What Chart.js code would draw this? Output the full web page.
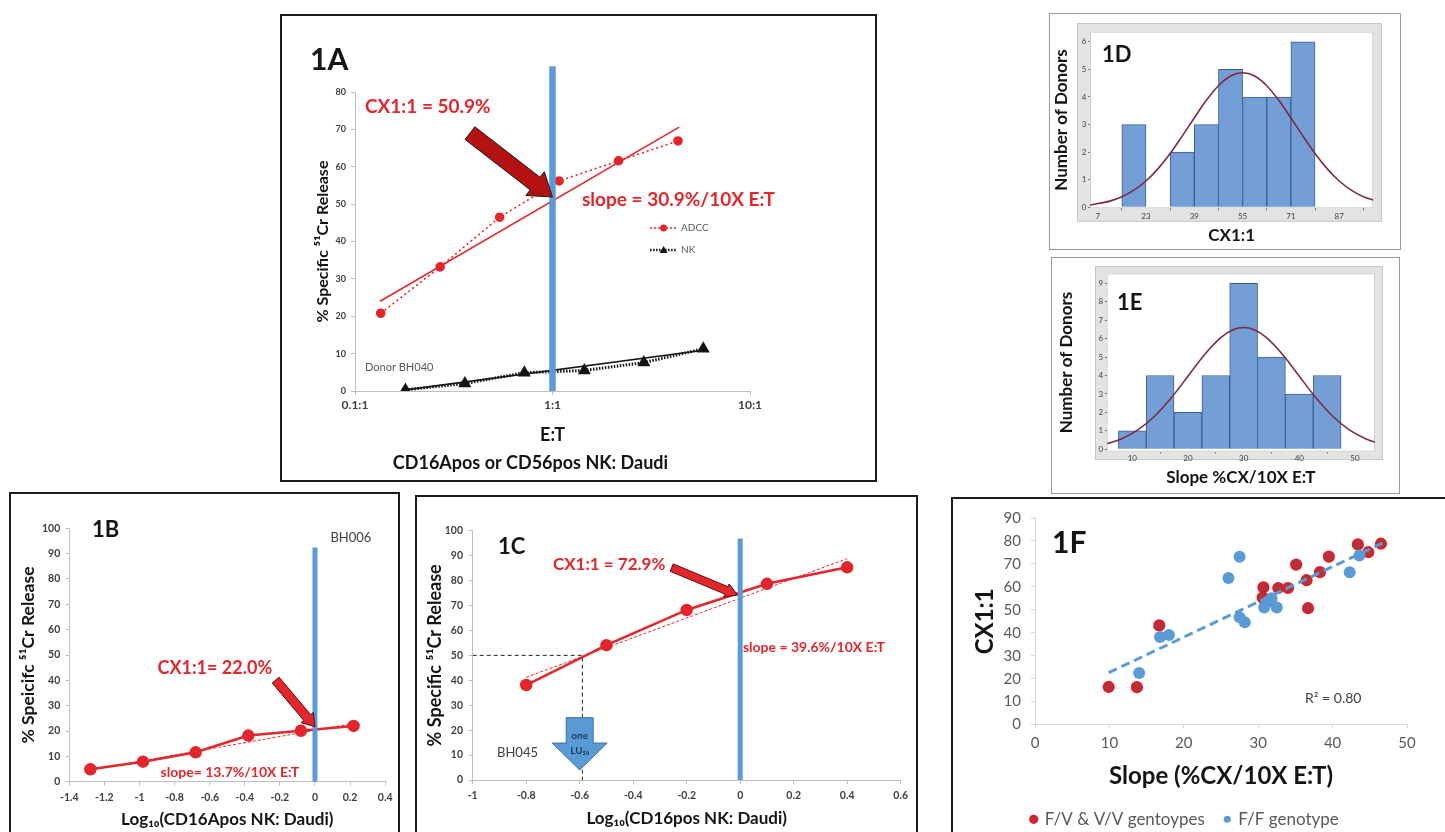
<!DOCTYPE html>
<html>
<head>
<meta charset="utf-8">
<title>Figure 1</title>
<script src="https://cdn.jsdelivr.net/npm/chart.js@4.4.1/dist/chart.umd.min.js"></script>
<style>
  html, body { margin: 0; padding: 0; background: #fff; }
  body { position: relative; width: 1445px; height: 832px; overflow: hidden; }
  .box { position: absolute; box-sizing: border-box; border: 2px solid #1b1b1b; background: #fff; overflow: hidden; }
  .box.thin { border: 1px solid #9a9a9a; }
  canvas { display: block; }
</style>
</head>
<body>
<div class="box" style="left:280px;top:14px;width:597px;height:468px"><canvas id="fig1A" width="593" height="464"></canvas></div>
<div class="box thin" style="left:1049px;top:13px;width:352px;height:237px"><canvas id="fig1D" width="350" height="235"></canvas></div>
<div class="box thin" style="left:1051px;top:257px;width:349px;height:237px"><canvas id="fig1E" width="347" height="235"></canvas></div>
<div class="box" style="left:9px;top:492px;width:391px;height:350px"><canvas id="fig1B" width="387" height="340"></canvas></div>
<div class="box" style="left:415px;top:495px;width:503px;height:345px"><canvas id="fig1C" width="499" height="340"></canvas></div>
<div class="box" style="left:951px;top:497px;width:496px;height:365px"><canvas id="fig1F" width="492" height="360"></canvas></div>

<script>
// ---- 1A: donor BH040, % release vs E:T (log axis)
const etAdcc = [0.135, 0.27, 0.54, 1.08, 2.16, 4.32];
const adccRelease = [20.8, 33.2, 46.5, 56.2, 61.6, 66.9];
const etNk = [0.18, 0.36, 0.72, 1.45, 2.9, 5.8];
const nkRelease = [0.3, 2.0, 4.9, 5.5, 7.6, 11.3];
const adccFitX = [0.134, 4.38];
const adccFitY = [24.0, 70.6];
const nkFitX = [0.18, 5.8];
const nkFitY = [0.3, 10.9];
const etTicks = [0.1, 1, 10];
const etTickLabels = ['0.1:1', '1:1', '10:1'];

// ---- 1B: donor BH006
const logEtB = [-1.28, -0.98, -0.68, -0.38, -0.08, 0.22];
const releaseB = [4.9, 7.9, 11.6, 18.2, 20.1, 22.0];
const fitBX = [-1.28, 0.22];
const fitBY = [4.6, 23.0];
const ticksB = [-1.4, -1.2, -1, -0.8, -0.6, -0.4, -0.2, 0, 0.2, 0.4];

// ---- 1C: donor BH045
const logEtC = [-0.8, -0.5, -0.2, 0.1, 0.4];
const releaseC = [38.1, 54.1, 68.2, 78.7, 85.3];
const fitCX = [-0.8, 0.4];
const fitCY = [41.2, 88.8];
const lu50X = [-1, -0.59, -0.59];
const lu50Y = [50, 50, 0];
const ticksC = [-1, -0.8, -0.6, -0.4, -0.2, 0, 0.2, 0.4, 0.6];

// ---- 1D: histogram of CX1:1
const cxBins = [19, 27, 35, 43, 51, 59, 67, 75];
const cxDonors = [3, 0, 2, 3, 5, 4, 4, 6];
const cxCurveX = [4.5, 11, 15, 19, 23, 27, 31, 35, 39, 43, 47, 51, 55, 59, 63, 67, 71, 75, 79, 83, 87, 91, 95, 98.3];
const cxCurveY = [0.08, 0.22, 0.38, 0.62, 0.95, 1.40, 1.95, 2.58, 3.24, 3.88, 4.41, 4.76, 4.88, 4.76, 4.41, 3.88, 3.24, 2.58, 1.95, 1.40, 0.95, 0.62, 0.38, 0.26];
const cxTicks = [7, 23, 39, 55, 71, 87];
const donorTicksD = [0, 1, 2, 3, 4, 5, 6];

// ---- 1E: histogram of slope
const slopeBins = [10, 15, 20, 25, 30, 35, 40, 45];
const slopeDonors = [1, 4, 2, 4, 9, 5, 3, 4];
const slopeCurveX = [5.5, 8, 11, 14, 17, 20, 23, 26, 28, 30, 32, 34, 37, 40, 43, 46, 49, 52, 53.6];
const slopeCurveY = [0.31, 0.56, 1.05, 1.79, 2.79, 3.96, 5.14, 6.08, 6.47, 6.60, 6.47, 6.08, 5.14, 3.96, 2.79, 1.79, 1.05, 0.56, 0.38];
const slopeTicks = [10, 20, 30, 40, 50];
const donorTicksE = [0, 1, 2, 3, 4, 5, 6, 7, 8, 9];

// ---- 1F: CX1:1 vs slope by genotype
const fvSlope = [9.9, 13.7, 16.7, 30.6, 30.7, 32.7, 34.0, 35.1, 36.5, 36.7, 38.3, 39.5, 43.4, 44.8, 46.5];
const fvCx = [16.4, 16.3, 43.2, 55.3, 59.8, 59.5, 59.5, 69.7, 62.9, 50.7, 66.4, 73.2, 78.5, 75.1, 78.8];
const ffSlope = [14.0, 16.8, 18.0, 26.0, 27.5, 27.5, 28.2, 30.8, 31.3, 31.8, 32.5, 42.3, 43.6];
const ffCx = [22.5, 38.2, 39.0, 63.9, 73.1, 46.8, 44.6, 51.0, 53.5, 55.0, 51.0, 66.4, 73.7];
const fitFX = [9.9, 46.7];
const fitFY = [22.6, 79.1];

const RED = '#e3262c';
const BLUE = '#5b9bd5';
const INK = '#141414';
const FONT = "Lato, 'DejaVu Sans', sans-serif";

Chart.defaults.font.family = FONT;
Chart.defaults.color = '#404040';

const pts = (xs, ys) => xs.map((x, i) => ({ x: x, y: ys[i] }));
const fixW = w => s => { s.width = w; };
const fixH = h => s => { s.height = h; };
const setTicks = arr => s => { s.ticks = arr.map(v => ({ value: v })); };
const dec1 = v => String(+v.toFixed(1));

// arrows, free text and small keys placed in data units
const notes = {
  id: 'notes',
  afterDatasetsDraw(chart, args, opts) {
    const ctx = chart.ctx;
    const px = v => chart.scales.x.getPixelForValue(v);
    const py = v => chart.scales.y.getPixelForValue(v);
    (opts.arrows || []).forEach(a => {
      const x1 = px(a.from[0]), y1 = py(a.from[1]);
      const x2 = px(a.to[0]), y2 = py(a.to[1]);
      const len = Math.hypot(x2 - x1, y2 - y1);
      const ux = (x2 - x1) / len, uy = (y2 - y1) / len;
      const nx = -uy, ny = ux;
      const bx = x2 - ux * a.headLen, by = y2 - uy * a.headLen;
      const s = a.shaft / 2, h = a.head / 2;
      ctx.save();
      ctx.beginPath();
      ctx.moveTo(x1 + nx * s, y1 + ny * s);
      ctx.lineTo(bx + nx * s, by + ny * s);
      ctx.lineTo(bx + nx * h, by + ny * h);
      ctx.lineTo(x2, y2);
      ctx.lineTo(bx - nx * h, by - ny * h);
      ctx.lineTo(bx - nx * s, by - ny * s);
      ctx.lineTo(x1 - nx * s, y1 - ny * s);
      ctx.closePath();
      ctx.fillStyle = a.fill;
      ctx.fill();
      ctx.lineWidth = a.lineWidth || 1;
      ctx.strokeStyle = a.stroke;
      ctx.stroke();
      ctx.restore();
    });
    (opts.keys || []).forEach(k => {
      const x = px(k.x), y = py(k.y);
      ctx.save();
      ctx.strokeStyle = k.color;
      ctx.lineWidth = k.width;
      ctx.setLineDash(k.dash);
      ctx.beginPath();
      ctx.moveTo(x, y);
      ctx.lineTo(x + 27, y);
      ctx.stroke();
      ctx.setLineDash([]);
      ctx.fillStyle = k.color;
      ctx.beginPath();
      if (k.style === 'triangle') {
        ctx.moveTo(x + 13.5, y - 4);
        ctx.lineTo(x + 17.5, y + 3);
        ctx.lineTo(x + 9.5, y + 3);
        ctx.closePath();
      } else {
        ctx.arc(x + 13.5, y, 3.5, 0, Math.PI * 2);
      }
      ctx.fill();
      ctx.font = '10px ' + FONT;
      ctx.fillStyle = '#595959';
      ctx.textBaseline = 'middle';
      ctx.fillText(k.label, x + 31, y);
      ctx.restore();
    });
    (opts.texts || []).forEach(t => {
      ctx.save();
      ctx.font = t.font + ' ' + FONT;
      ctx.fillStyle = t.color;
      ctx.textAlign = t.align || 'left';
      ctx.textBaseline = 'middle';
      ctx.fillText(t.text, px(t.x), py(t.y));
      ctx.restore();
    });
  }
};

// Minitab style grey frame with white plot area
const frame = {
  id: 'frame',
  beforeDraw(chart, args, o) {
    const { ctx, chartArea: a } = chart;
    ctx.save();
    ctx.fillStyle = '#e3e3e3';
    ctx.fillRect(a.left - o.l, a.top - o.t, a.width + o.l + o.r, a.height + o.t + o.b);
    ctx.strokeStyle = '#c6c6c6';
    ctx.lineWidth = 1;
    ctx.strokeRect(a.left - o.l + 0.5, a.top - o.t + 0.5, a.width + o.l + o.r - 1, a.height + o.t + o.b - 1);
    ctx.fillStyle = '#fff';
    ctx.fillRect(a.left, a.top, a.width, a.height);
    ctx.strokeStyle = '#cfcfcf';
    ctx.strokeRect(a.left + 0.5, a.top + 0.5, a.width - 1, a.height - 1);
    ctx.restore();
  }
};

const quiet = { legend: { display: false }, tooltip: { enabled: false } };
const plainGrid = { drawOnChartArea: false, tickLength: 4, color: '#bfbfbf' };

// ---------- 1A ----------
new Chart(document.getElementById('fig1A'), {
  type: 'scatter',
  data: {
    datasets: [
      { data: pts([1, 1], [0, 86.9]), showLine: true, borderColor: BLUE, borderWidth: 6.5, borderCapStyle: 'butt', pointRadius: 0, clip: false },
      { label: 'ADCC fit', data: pts(adccFitX, adccFitY), showLine: true, borderColor: RED, borderWidth: 1.6, pointRadius: 0 },
      { label: 'ADCC', data: pts(etAdcc, adccRelease), showLine: true, borderColor: RED, borderDash: [2, 3], borderWidth: 1.6, pointRadius: 4, pointBackgroundColor: RED, pointBorderColor: RED },
      { label: 'NK fit', data: pts(nkFitX, nkFitY), showLine: true, borderColor: INK, borderWidth: 1.6, pointRadius: 0 },
      { label: 'NK', data: pts(etNk, nkRelease), showLine: true, borderColor: INK, borderDash: [1.5, 1.5], borderWidth: 3, pointStyle: 'triangle', pointRadius: 4.5, pointBackgroundColor: INK, pointBorderColor: INK }
    ]
  },
  options: {
    responsive: false, animation: false, events: [],
    layout: { padding: { left: 29, right: 125, top: 76, bottom: 0 } },
    plugins: Object.assign({}, quiet, {
      title: { display: true, position: 'bottom', text: 'CD16Apos or CD56pos NK: Daudi', color: INK, font: { size: 18, weight: 'bold' }, padding: { top: 4, bottom: 6.4 } },
      notes: {
        arrows: [{ from: [0.382, 69.0], to: [1.0, 51.9], shaft: 16, head: 30, headLen: 22, fill: '#b41212', stroke: '#1a1a1a' }],
        keys: [
          { label: 'ADCC', x: 3.12, y: 43.6, color: RED, width: 1.6, dash: [2, 2], style: 'circle' },
          { label: 'NK', x: 3.12, y: 37.7, color: INK, width: 2.5, dash: [1.5, 1.5], style: 'triangle' }
        ],
        texts: [
          { text: '1A', x: 0.0592, y: 88.5, font: 'bold 30px', color: INK },
          { text: 'CX1:1 = 50.9%', x: 0.1124, y: 75.9, font: 'bold 19px', color: RED },
          { text: 'slope = 30.9%/10X E:T', x: 1.41, y: 51.1, font: 'bold 19px', color: RED },
          { text: 'Donor BH040', x: 0.1124, y: 6.4, font: '11px', color: '#595959' }
        ]
      }
    }),
    scales: {
      x: {
        type: 'logarithmic', min: 0.1, max: 10,
        afterFit: fixH(57), afterBuildTicks: setTicks(etTicks),
        ticks: { callback: (v, i) => etTickLabels[i], font: { size: 12, weight: 'bold' }, color: '#404040', padding: 3, maxRotation: 0, autoSkip: false },
        grid: plainGrid, border: { color: '#bfbfbf' },
        title: { display: true, text: 'E:T', color: INK, font: { size: 18, weight: 'bold' }, padding: { top: 0, bottom: 2 } }
      },
      y: {
        min: 0, max: 80, afterFit: fixW(44),
        ticks: { stepSize: 10, font: { size: 9, weight: 'bold' }, color: '#404040', padding: 5 },
        grid: plainGrid, border: { color: '#bfbfbf' },
        title: { display: true, text: '% Specific \u2075\u00b9Cr Release', color: INK, font: { size: 16, weight: 'bold' }, padding: { top: 2, bottom: 0 } }
      }
    }
  },
  plugins: [notes]
});

// ---------- 1B ----------
new Chart(document.getElementById('fig1B'), {
  type: 'scatter',
  data: {
    datasets: [
      { data: pts([0, 0], [0, 92.4]), showLine: true, borderColor: BLUE, borderWidth: 5, borderCapStyle: 'butt', pointRadius: 0, clip: false },
      { label: 'ADCC', data: pts(logEtB, releaseB), showLine: true, borderColor: RED, borderWidth: 2.5, pointRadius: 5, pointBackgroundColor: RED, pointBorderColor: RED },
      { label: 'fit', data: pts(fitBX, fitBY), showLine: true, borderColor: RED, borderDash: [3, 2], borderWidth: 1, pointRadius: 0 }
    ]
  },
  options: {
    responsive: false, animation: false, events: [],
    layout: { padding: { left: 2, right: 11.3, top: 34.3, bottom: 0 } },
    plugins: Object.assign({}, quiet, {
      notes: {
        arrows: [{ from: [-0.224, 40.1], to: [0, 21.7], shaft: 9, head: 16, headLen: 12, fill: RED, stroke: '#5a0a0a' }],
        texts: [
          { text: '1B', x: -1.27, y: 99.4, font: 'bold 22px', color: INK },
          { text: 'BH006', x: 0.088, y: 96.2, font: '13px', color: '#404040' },
          { text: 'CX1:1= 22.0%', x: -0.897, y: 44.9, font: 'bold 18px', color: RED },
          { text: 'slope= 13.7%/10X E:T', x: -0.88, y: 3.8, font: 'bold 14px', color: RED }
        ]
      }
    }),
    scales: {
      x: {
        min: -1.4, max: 0.4, afterFit: fixH(52.3), afterBuildTicks: setTicks(ticksB),
        ticks: { callback: dec1, font: { size: 10.5, weight: 'bold' }, color: '#404040', padding: 5.5, maxRotation: 0, autoSkip: false },
        grid: plainGrid, border: { color: '#bfbfbf' },
        title: { display: true, text: 'Log\u2081\u2080(CD16Apos NK: Daudi)', color: INK, font: { size: 17, weight: 'bold' }, padding: { top: 0, bottom: 4 } }
      },
      y: {
        min: 0, max: 100, afterFit: fixW(56.3),
        ticks: { stepSize: 10, font: { size: 10.5, weight: 'bold' }, color: '#404040', padding: 5 },
        grid: plainGrid, border: { color: '#bfbfbf' },
        title: { display: true, text: '% Speicifc \u2075\u00b9Cr Release', color: INK, font: { size: 17.5, weight: 'bold' }, padding: { top: 5, bottom: 0 } }
      }
    }
  },
  plugins: [notes]
});

// ---------- 1C ----------
new Chart(document.getElementById('fig1C'), {
  type: 'scatter',
  data: {
    datasets: [
      { data: pts([0, 0], [0, 96.9]), showLine: true, borderColor: BLUE, borderWidth: 5, borderCapStyle: 'butt', pointRadius: 0, clip: false },
      { label: 'ADCC', data: pts(logEtC, releaseC), showLine: true, borderColor: RED, borderWidth: 2.5, pointRadius: 5, pointBackgroundColor: RED, pointBorderColor: RED },
      { label: 'fit', data: pts(fitCX, fitCY), showLine: true, borderColor: RED, borderDash: [3, 2], borderWidth: 1, pointRadius: 0 },
      { label: 'LU50', data: pts(lu50X, lu50Y), showLine: true, borderColor: '#222', borderDash: [4, 3], borderWidth: 1, pointRadius: 0 }
    ]
  },
  options: {
    responsive: false, animation: false, events: [],
    layout: { padding: { left: 2, right: 15.3, top: 33.7, bottom: 0 } },
    plugins: Object.assign({}, quiet, {
      notes: {
        arrows: [
          { from: [-0.256, 85.2], to: [-0.01, 74.2], shaft: 8, head: 14, headLen: 12, fill: RED, stroke: '#5a0a0a' },
          { from: [-0.6, 25], to: [-0.6, 4.0], shaft: 27, head: 55, headLen: 27, fill: BLUE, stroke: '#41719c' }
        ],
        texts: [
          { text: '1C', x: -0.905, y: 93.5, font: 'bold 22px', color: INK },
          { text: 'CX1:1 = 72.9%', x: -0.70, y: 86.6, font: 'bold 17px', color: RED },
          { text: 'slope = 39.6%/10X E:T', x: 0.01, y: 53.3, font: 'bold 14px', color: RED },
          { text: 'BH045', x: -0.909, y: 10.8, font: '13px', color: '#404040' },
          { text: 'one', x: -0.6, y: 17.6, font: 'bold 10px', color: '#1f3864', align: 'center' },
          { text: 'LU\u2085\u2080', x: -0.6, y: 11.6, font: 'bold 10px', color: '#1f3864', align: 'center' }
        ]
      }
    }),
    scales: {
      x: {
        min: -1, max: 0.6, afterFit: fixH(57), afterBuildTicks: setTicks(ticksC),
        ticks: { callback: dec1, font: { size: 10.5, weight: 'bold' }, color: '#404040', padding: 5.5, maxRotation: 0, autoSkip: false },
        grid: plainGrid, border: { color: '#bfbfbf' },
        title: { display: true, text: 'Log\u2081\u2080(CD16pos NK: Daudi)', color: INK, font: { size: 17, weight: 'bold' }, padding: { top: 0, bottom: 8 } }
      },
      y: {
        min: 0, max: 100, afterFit: fixW(53.7),
        ticks: { stepSize: 10, font: { size: 10.5, weight: 'bold' }, color: '#404040', padding: 5.7 },
        grid: plainGrid, border: { color: '#bfbfbf' },
        title: { display: true, text: '% Specific \u2075\u00b9Cr Release', color: INK, font: { size: 18, weight: 'bold' }, padding: { top: 5, bottom: 0 } }
      }
    }
  },
  plugins: [notes]
});

// ---------- 1D / 1E histograms ----------
function histogram(id, bins, counts, curveX, curveY, opt) {
  return new Chart(document.getElementById(id), {
    type: 'bar',
    data: {
      datasets: [
        { type: 'line', data: pts(curveX, curveY), borderColor: '#7e2a44', borderWidth: 1.6, pointRadius: 0, cubicInterpolationMode: 'monotone' },
        { type: 'bar', data: pts(bins, counts), backgroundColor: '#739fd6', borderColor: '#3f5f8f', borderWidth: 1, barPercentage: 1, categoryPercentage: 1, grouped: false }
      ]
    },
    options: {
      responsive: false, animation: false, events: [],
      layout: { padding: opt.padding },
      plugins: Object.assign({}, quiet, { frame: opt.frame, notes: { texts: [opt.tag] } }),
      scales: {
        x: {
          type: 'linear', offset: false, min: opt.xMin, max: opt.xMax,
          afterFit: fixH(opt.xH), afterBuildTicks: setTicks(opt.xTicks),
          ticks: { font: { size: 8 }, color: '#444', padding: opt.xPad, maxRotation: 0, autoSkip: false },
          grid: { drawOnChartArea: false, tickLength: 2, color: '#777' }, border: { display: false },
          title: { display: true, text: opt.xTitle, color: INK, font: { size: 17, weight: 'bold' }, padding: { top: 0, bottom: opt.xTitlePad } }
        },
        y: {
          min: opt.yMin, max: opt.yMax,
          afterFit: fixW(opt.yW), afterBuildTicks: setTicks(opt.yTicks),
          ticks: { font: { size: 8 }, color: '#444', padding: 1.5 },
          grid: { drawOnChartArea: false, tickLength: 2, color: '#777' }, border: { display: false },
          title: { display: true, text: 'Number of Donors', color: INK, font: { size: 17, weight: 'bold' }, padding: { top: opt.yTitlePad, bottom: 0 } }
        }
      }
    },
    plugins: [frame, notes]
  });
}

histogram('fig1D', cxBins, cxDonors, cxCurveX, cxCurveY, {
  padding: { left: 0, right: 26.7, top: 17.7, bottom: 0 },
  frame: { l: 13, t: 8.7, r: 8.7, b: 13.4 },
  tag: { text: '1D', x: 8.4, y: 5.53, font: 'bold 22px', color: INK },
  xMin: 4.45, xMax: 98.3, xTicks: cxTicks, xH: 40.7, xPad: 1.5, xTitle: 'CX1:1', xTitlePad: 3.2,
  yMin: -0.04, yMax: 6.37, yTicks: donorTicksD, yW: 40, yTitlePad: 1.5
});

histogram('fig1E', slopeBins, slopeDonors, slopeCurveX, slopeCurveY, {
  padding: { left: 0, right: 24, top: 15.3, bottom: 0 },
  frame: { l: 11.7, t: 7.3, r: 8, b: 8.3 },
  tag: { text: '1E', x: 7.25, y: 7.93, font: 'bold 22px', color: INK },
  xMin: 5.4, xMax: 53.6, xTicks: slopeTicks, xH: 41.3, xPad: 0, xTitle: 'Slope %CX/10X E:T', xTitlePad: 5.5,
  yMin: -0.13, yMax: 9.54, yTicks: donorTicksE, yW: 54.7, yTitlePad: 4.5
});

// ---------- 1F ----------
new Chart(document.getElementById('fig1F'), {
  type: 'scatter',
  data: {
    datasets: [
      { label: 'trend', data: pts(fitFX, fitFY), showLine: true, borderColor: BLUE, borderWidth: 3, borderDash: [9, 5], pointRadius: 0 },
      { label: 'F/F genotype', data: pts(ffSlope, ffCx), pointRadius: 6, pointBackgroundColor: BLUE, pointBorderColor: BLUE, pointBorderWidth: 0 },
      { label: 'F/V & V/V gentoypes', data: pts(fvSlope, fvCx), pointRadius: 5, pointBackgroundColor: '#b0343c', pointBorderColor: '#dc1f2a', pointBorderWidth: 2.2 }
    ]
  },
  options: {
    responsive: false, animation: false, events: [],
    layout: { padding: { left: 10, right: 38, top: 18.7, bottom: 21.2 } },
    plugins: {
      tooltip: { enabled: false },
      legend: {
        display: true, position: 'bottom', reverse: true,
        labels: {
          filter: item => item.text !== 'trend',
          usePointStyle: true, pointStyle: 'circle', boxWidth: 5, boxHeight: 5,
          color: '#595959', font: { size: 17 }, padding: 20
        }
      },
      notes: {
        texts: [
          { text: '1F', x: 2.3, y: 78.9, font: 'bold 30px', color: INK },
          { text: 'R\u00b2 = 0.80', x: 36.3, y: 11.5, font: '14px', color: '#404040' }
        ]
      }
    },
    scales: {
      x: {
        min: 0, max: 50, afterFit: fixH(66.2),
        ticks: { stepSize: 10, font: { size: 15 }, color: '#595959', padding: 6, maxRotation: 0 },
        grid: { drawOnChartArea: false, tickLength: 4, color: '#d9d9d9' }, border: { color: '#d9d9d9' },
        title: { display: true, text: 'Slope (%CX/10X E:T)', color: INK, font: { size: 24, weight: 'bold' }, padding: { top: 0, bottom: 0.2 } }
      },
      y: {
        min: 0, max: 90, afterFit: fixW(72),
        ticks: { stepSize: 10, font: { size: 15 }, color: '#595959', padding: 10 },
        grid: { drawOnChartArea: false, tickLength: 4, color: '#d9d9d9' }, border: { color: '#d9d9d9' },
        title: { display: true, text: 'CX1:1', color: INK, font: { size: 24, weight: 'bold' }, padding: { top: 8, bottom: 0 } }
      }
    }
  },
  plugins: [notes]
});
</script>
</body>
</html>
